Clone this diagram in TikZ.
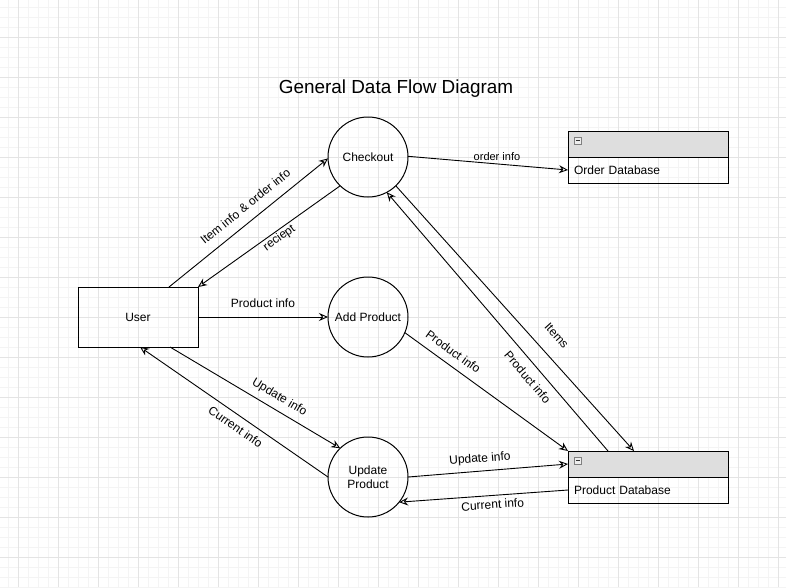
\documentclass[tikz,border=0pt]{standalone}
\usepackage{fontspec}
\setmainfont{Liberation Sans}
\usetikzlibrary{arrows.meta}
\definecolor{gridminor}{HTML}{F4F4F4}
\definecolor{gridmajor}{HTML}{E4E4E4}
\definecolor{hdr}{HTML}{DEDEDE}
\definecolor{iconfill}{HTML}{EEEEEE}
\begin{document}
\begin{tikzpicture}[x=1pt,y=-1pt,
  font=\fontsize{12}{14}\selectfont,
  proc/.style={circle,draw,line width=1pt,minimum size=80pt,inner sep=0pt,outer sep=0pt,align=center},
  ent/.style={rectangle,draw,line width=1pt,minimum width=120pt,minimum height=60pt,inner sep=0pt,outer sep=0pt},
  dbh/.style={rectangle,draw,line width=1pt,fill=hdr,minimum width=160pt,minimum height=26pt,inner sep=0pt,outer sep=0pt},
  dbb/.style={rectangle,draw,line width=1pt,minimum height=26pt,text width=148pt,inner xsep=6pt,inner ysep=0pt,outer sep=0pt,align=left},
  iconbox/.style={rectangle,draw=gray,fill=iconfill,line width=0.8pt,minimum size=7pt,inner sep=0pt},
  flow/.style={draw,line width=0.9pt,-{Stealth[open,length=9pt,width=8pt,inset=3pt]}},
  lbl/.style={inner sep=0pt,font=\fontsize{12}{14}\selectfont},
  minorline/.style={draw=gridminor,line width=1pt},
  majorline/.style={draw=gridmajor,line width=1pt}
]
\useasboundingbox (0,0) rectangle (786,587);
\fill[white] (0,0) rectangle (786,587);
% grid
\foreach \x in {8,18,...,786} {\draw[minorline] (\x,0) -- (\x,587);}
\foreach \y in {7,17,...,587} {\draw[minorline] (0,\y) -- (786,\y);}
\foreach \x in {18,58,...,786} {\draw[majorline] (\x,0) -- (\x,587);}
\foreach \y in {37,77,...,587} {\draw[majorline] (0,\y) -- (786,\y);}

% title
\node (title) at (396,88.5) {\fontsize{18.9}{22}\selectfont General Data Flow Diagram};

% nodes
\node[ent] (user) at (138,317) {User};
\node[proc] (chk) at (368,157) {Checkout};
\node[proc] (add) at (368,317) {Add Product};
\node[proc] (upd) at (368,477) {Update\\Product};

\node[dbh] (odbh) at (648,144) {};
\node[dbb] (odb) at (648,170) {Order Database};
\node[iconbox] (odbicon) at ([xshift=9.5pt,yshift=3.3pt]odbh.west) {};
\draw[line width=1pt,black!80] ([xshift=-2pt]odbicon.center) -- ([xshift=2pt]odbicon.center);

\node[dbh] (pdbh) at (648,464) {};
\node[dbb] (pdb) at (648,490) {Product Database};
\node[iconbox] (pdbicon) at ([xshift=9.5pt,yshift=3.3pt]pdbh.west) {};
\draw[line width=1pt,black!80] ([xshift=-2pt]pdbicon.center) -- ([xshift=2pt]pdbicon.center);

% flows
\draw[flow] ([xshift=31pt]user.north) -- node[lbl,sloped,above=9.8pt,pos=0.538]{Item info \& order info} (chk.182);
\draw[flow] (chk.226) -- node[lbl,sloped,below=1.4pt,pos=0.458]{reciept} (user.north east);
\draw[flow] (chk.1) -- node[lbl,above=2.8pt,pos=0.556,font=\fontsize{11}{13}\selectfont]{order info} (odb.west);
\draw[flow] (user.east) -- node[lbl,above=8.6pt,pos=0.5]{Product info} (add.west);
\draw[flow] (add.-23) -- node[lbl,sloped,above=8.3pt,pos=0.25]{Product info} (pdbh.north west);
\draw[flow] (chk.314) -- node[lbl,sloped,above=15pt,pos=0.614]{Items} ([xshift=-14pt]pdbh.north);
\draw[flow] ([xshift=-40pt]pdbh.north) -- node[lbl,sloped,below=8.3pt,pos=0.318]{Product info} (chk.298);
\draw[flow] (upd.0) -- node[lbl,sloped,above=6pt,pos=0.456]{Update info} (pdbh.west);
\draw[flow] (pdb.west) -- node[lbl,sloped,below=4.2pt,pos=0.45]{Current info} (upd.321);
\draw[flow] ([xshift=32pt]user.south) -- node[lbl,sloped,above=6.4pt,pos=0.605]{Update info} (upd.134);
\draw[flow] (upd.180) -- node[lbl,sloped,below=6.5pt,pos=0.457]{Current info} ([xshift=2pt]user.south);
\end{tikzpicture}
\end{document}
